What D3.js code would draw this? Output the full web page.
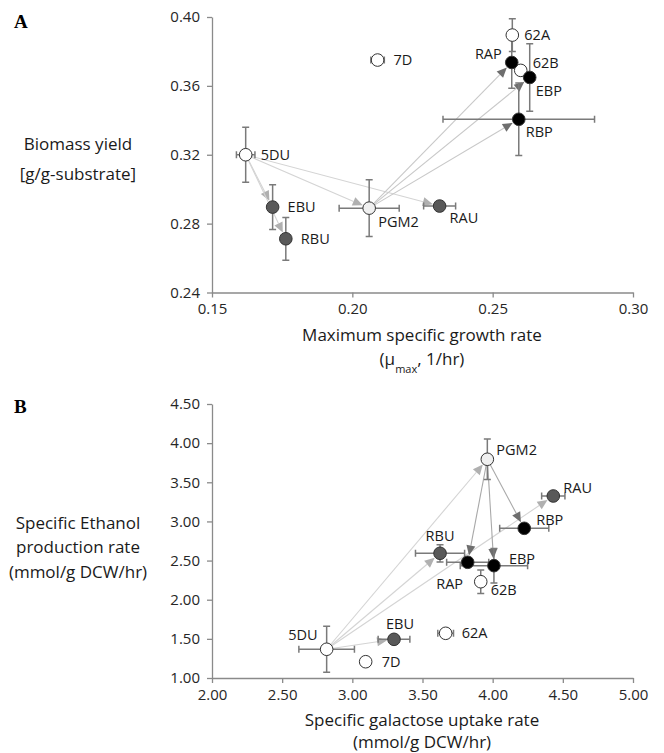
<!DOCTYPE html>
<html>
<head>
<meta charset="utf-8">
<script src="https://cdn.jsdelivr.net/npm/d3@7"></script>
<style>
  body { margin: 0; background: #fff; }
  text { font-family: "Open Sans", sans-serif; }
</style>
</head>
<body>
<svg id="chart" width="664" height="753"></svg>
<script>
// strains and their class (reference / U-type / P-type)
var strains = ["5DU", "7D", "62A", "62B", "PGM2", "EBU", "RBU", "RAU", "EBP", "RBP", "RAP"];
var kinds   = ["ref", "ref", "ref", "ref", "pgm", "U", "U", "U", "P", "P", "P"];

// panel A: growth rate vs biomass yield
var muMax    = [0.162, 0.209, 0.257, 0.260, 0.206, 0.1716, 0.1763, 0.2311, 0.2632, 0.2593, 0.2568];
var muErr    = [0.0033, 0.0024, 0, 0, 0.0107, 0, 0, 0.0057, 0, 0.027, 0];
var yieldBio = [0.320, 0.375, 0.3895, 0.369, 0.289, 0.2896, 0.2712, 0.2902, 0.3649, 0.3406, 0.3736];
var yieldErr = [0.016, 0, 0.0095, 0, 0.0165, 0.013, 0.0124, 0, 0.0196, 0.021, 0.015];

// panel B: galactose uptake vs ethanol production
var galUptake = [2.817, 3.095, 3.665, 3.915, 3.962, 3.297, 3.625, 4.432, 4.009, 4.225, 3.822];
var galErr    = [0.198, 0, 0.056, 0, 0, 0.113, 0.175, 0.083, 0.24, 0.175, 0.15];
var ethanol   = [1.367, 1.208, 1.571, 2.23, 3.794, 1.494, 2.593, 3.325, 2.435, 2.912, 2.478];
var ethErr    = [0.294, 0, 0, 0.15, 0.26, 0, 0.11, 0, 0.22, 0.05, 0];

// arrows between strains
var arrowFrom = ["5DU", "5DU", "5DU", "5DU", "PGM2", "PGM2", "PGM2"];
var arrowTo   = ["EBU", "RBU", "RAU", "PGM2", "RAP", "EBP", "RBP"];

var xTicksA = [0.15, 0.20, 0.25, 0.30];
var yTicksA = [0.24, 0.28, 0.32, 0.36, 0.40];
var xTicksB = [2.00, 2.50, 3.00, 3.50, 4.00, 4.50, 5.00];
var yTicksB = [1.00, 1.50, 2.00, 2.50, 3.00, 3.50, 4.00, 4.50];

var fills = { ref: "#ffffff", pgm: "#f0f0f0", U: "#595959", P: "#000000" };

// label offsets [dx, dy, anchor]
var labelPosA = {
  "5DU": [15, 0, "start"], "7D": [16, 0, "start"], "62A": [12, 0, "start"],
  "62B": [12, -7, "start"], "PGM2": [9, 14, "start"], "EBU": [15, 0, "start"],
  "RBU": [15, 0, "start"], "RAU": [10, 12, "start"], "EBP": [6, 13, "start"],
  "RBP": [7, 13, "start"], "RAP": [-10, -9, "end"]
};
var labelPosB = {
  "5DU": [-9, -14, "end"], "7D": [16, 0, "start"], "62A": [16, 0, "start"],
  "62B": [10, 8, "start"], "PGM2": [9, -9, "start"], "EBU": [6, -15, "middle"],
  "RBU": [0, -17, "middle"], "RAU": [10, -8, "start"], "EBP": [15, -7, "start"],
  "RBP": [12, -8, "start"], "RAP": [-18, 22, "middle"]
};

var svg = d3.select("#chart");

function drawPanel(p) {
  var g = svg.append("g");
  var x = d3.scaleLinear().domain(p.xDomain).range([212, 633]);
  var y = d3.scaleLinear().domain(p.yDomain).range(p.yRange);
  var fmt = d3.format(".2f");

  var xAxis = g.append("g")
    .attr("transform", "translate(0," + p.yRange[0] + ")")
    .call(d3.axisBottom(x).tickValues(p.xTicks).tickFormat(fmt).tickSize(5).tickSizeOuter(0).tickPadding(6));
  var yAxis = g.append("g")
    .attr("transform", "translate(212,0)")
    .call(d3.axisLeft(y).tickValues(p.yTicks).tickFormat(fmt).tickSize(5).tickSizeOuter(0).tickPadding(7));
  [xAxis, yAxis].forEach(function(a) {
    a.select(".domain").attr("stroke", "#8a8a8a").attr("stroke-width", 1.3);
    a.selectAll(".tick line").attr("stroke", "#8a8a8a").attr("stroke-width", 1.3);
    a.selectAll(".tick text").attr("fill", "#262626").style("font-size", "15px").style("font-family", "'Open Sans', sans-serif");
  });

  var idx = {};
  strains.forEach(function(s, i) { idx[s] = i; });

  // arrows
  var ag = g.append("g").attr("class", "arrows");
  arrowFrom.forEach(function(from, k) {
    var i = idx[from], j = idx[arrowTo[k]];
    var x1 = x(p.xs[i]), y1 = y(p.ys[i]), x2 = x(p.xs[j]), y2 = y(p.ys[j]);
    var dx = x2 - x1, dy = y2 - y1, L = Math.hypot(dx, dy), ux = dx / L, uy = dy / L;
    var tx = x2 - ux * 7, ty = y2 - uy * 7;
    var bx = tx - ux * 10, by = ty - uy * 10;
    var dark = from === "PGM2";
    ag.append("line")
      .attr("x1", x1).attr("y1", y1).attr("x2", bx).attr("y2", by)
      .attr("stroke", dark ? p.darkLine : "#d4d4d4").attr("stroke-width", 1.1);
    ag.append("path")
      .attr("d", "M" + tx + "," + ty + "L" + (bx - uy * 4.5) + "," + (by + ux * 4.5) +
                 "L" + (bx + uy * 4.5) + "," + (by - ux * 4.5) + "Z")
      .attr("fill", dark ? "#6e6e6e" : "#b0b0b0");
  });

  // error bars
  var eg = g.append("g").attr("class", "errors")
    .attr("stroke", "#7a7a7a").attr("stroke-width", 1.5).attr("fill", "none");
  strains.forEach(function(s, i) {
    var cx = x(p.xs[i]), cy = y(p.ys[i]);
    if (p.yErr[i] > 0) {
      var t = y(p.ys[i] + p.yErr[i]), b = y(p.ys[i] - p.yErr[i]);
      eg.append("path").attr("d", "M" + cx + "," + t + "V" + b +
        "M" + (cx - 3.5) + "," + t + "h7M" + (cx - 3.5) + "," + b + "h7");
    }
    if (p.xErr[i] > 0) {
      var l = x(p.xs[i] - p.xErr[i]), r = x(p.xs[i] + p.xErr[i]);
      eg.append("path").attr("d", "M" + l + "," + cy + "H" + r +
        "M" + l + "," + (cy - 3.5) + "v7M" + r + "," + (cy - 3.5) + "v7");
    }
  });

  // points
  g.append("g").selectAll("circle")
    .data(strains)
    .enter().append("circle")
    .attr("cx", function(d, i) { return x(p.xs[i]); })
    .attr("cy", function(d, i) { return y(p.ys[i]); })
    .attr("r", 6.3)
    .attr("fill", function(d, i) { return fills[kinds[i]]; })
    .attr("stroke", "#333")
    .attr("stroke-width", 1);

  // point labels
  g.append("g").selectAll("text")
    .data(strains)
    .enter().append("text")
    .attr("x", function(d, i) { return x(p.xs[i]) + p.labels[d][0]; })
    .attr("y", function(d, i) { return y(p.ys[i]) + p.labels[d][1]; })
    .attr("dy", "0.35em")
    .attr("text-anchor", function(d) { return p.labels[d][2]; })
    .attr("fill", "#1a1a1a")
    .style("font-size", "14.5px")
    .text(function(d) { return d; });

  // panel letter
  g.append("text")
    .attr("x", 14).attr("y", p.letterY)
    .style("font-family", "'Liberation Serif', 'Times New Roman', serif")
    .style("font-weight", "bold").style("font-size", "19px")
    .text(p.letter);

  // y title
  var yt = g.append("text").attr("text-anchor", "middle").attr("fill", "#1a1a1a").style("font-size", "17px");
  p.yTitle.forEach(function(line, k) {
    yt.append("tspan").attr("x", 78).attr("y", p.yTitleY[k]).attr("dy", "0.35em").text(line);
  });

  // x title
  var xt = g.append("text").attr("text-anchor", "middle").attr("fill", "#1a1a1a").style("font-size", "17px");
  xt.append("tspan").attr("x", 422).attr("y", p.xTitleY[0]).attr("dy", "0.35em").text(p.xTitle[0]);
  var second = xt.append("tspan").attr("x", 422).attr("y", p.xTitleY[1]).attr("dy", "0.35em");
  p.xTitle2(second);
}

drawPanel({
  letter: "A", letterY: 28,
  xs: muMax, ys: yieldBio, xErr: muErr, yErr: yieldErr,
  xDomain: [0.15, 0.30], yDomain: [0.24, 0.40], yRange: [292.5, 17],
  xTicks: xTicksA, yTicks: yTicksA, labels: labelPosA, darkLine: "#c8c8c8",
  yTitle: ["Biomass yield", "[g/g-substrate]"], yTitleY: [144, 174],
  xTitle: ["Maximum specific growth rate"], xTitleY: [335, 359],
  xTitle2: function(t) {
    t.append("tspan").text("(\u03bc");
    t.append("tspan").attr("baseline-shift", "sub").style("font-size", "11px").text("max");
    t.append("tspan").text(", 1/hr)");
  }
});

drawPanel({
  letter: "B", letterY: 413,
  xs: galUptake, ys: ethanol, xErr: galErr, yErr: ethErr,
  xDomain: [2.0, 5.0], yDomain: [1.0, 4.5], yRange: [678, 404],
  xTicks: xTicksB, yTicks: yTicksB, labels: labelPosB, darkLine: "#a8a8a8",
  yTitle: ["Specific Ethanol", "production rate", "(mmol/g DCW/hr)"], yTitleY: [523, 547, 572],
  xTitle: ["Specific galactose uptake rate"], xTitleY: [720, 742],
  xTitle2: function(t) { t.text("(mmol/g DCW/hr)"); }
});
</script>
</body>
</html>
